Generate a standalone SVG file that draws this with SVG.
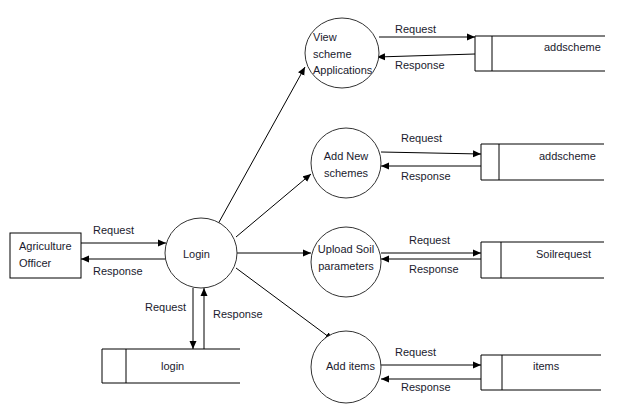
<svg xmlns="http://www.w3.org/2000/svg" width="624" height="419" viewBox="0 0 624 419">
<defs>
<marker id="ah" markerUnits="userSpaceOnUse" markerWidth="9" markerHeight="8" refX="8" refY="4" orient="auto">
<path d="M0,0.5 L8,4 L0,7.5 Z" fill="#000"/>
</marker>
<style>
text{font-family:"Liberation Sans",Arial,sans-serif;font-size:11px;fill:#1a1a2e}
.c{fill:#fff;stroke:#333;stroke-width:1}
.b{fill:#fff;stroke:#000;stroke-width:1}
.s{fill:none;stroke:#000;stroke-width:1}
.l{fill:none;stroke:#000;stroke-width:1;marker-end:url(#ah)}
.m{text-anchor:middle}
</style>
</defs>
<rect width="624" height="419" fill="#fff"/>
<g id="connectors">
<line class="l" x1="81" y1="243" x2="166" y2="243"/>
<line class="l" x1="166" y1="259" x2="81" y2="259"/>
<line class="l" x1="193" y1="288" x2="193" y2="349"/>
<line class="l" x1="204" y1="349" x2="204" y2="288"/>
<line class="l" x1="218" y1="224" x2="305" y2="67"/>
<line class="l" x1="236" y1="237" x2="311" y2="174"/>
<line class="l" x1="237" y1="253" x2="311" y2="253"/>
<line class="l" x1="236" y1="268" x2="333" y2="340"/>
<line class="l" x1="379" y1="37" x2="475" y2="37"/>
<line class="l" x1="475" y1="54" x2="377" y2="57"/>
<line class="l" x1="381" y1="152" x2="481" y2="154"/>
<line class="l" x1="481" y1="166" x2="381" y2="166"/>
<line class="l" x1="381" y1="253" x2="481" y2="253"/>
<line class="l" x1="481" y1="259" x2="381" y2="259"/>
<line class="l" x1="373" y1="365" x2="481" y2="365"/>
<line class="l" x1="481" y1="379" x2="381" y2="379"/>
<text x="93" y="234">Request</text>
<text x="93" y="275">Response</text>
<text x="145" y="311">Request</text>
<text x="213" y="318">Response</text>
<text x="395" y="33">Request</text>
<text x="395" y="69">Response</text>
<text x="401" y="142">Request</text>
<text x="401" y="180">Response</text>
<text x="409" y="244">Request</text>
<text x="409" y="273">Response</text>
<text x="395" y="356">Request</text>
<text x="401" y="391">Response</text>
</g>
<g id="officer">
<rect class="b" x="10" y="233" width="71" height="45"/>
<text x="19" y="250">Agriculture</text>
<text x="19" y="267">Officer</text>
</g>
<g id="login">
<ellipse class="c" cx="201" cy="253" rx="36" ry="35"/>
<text x="183" y="258">Login</text>
</g>
<g id="login-store">
<path class="s" d="M240,349 H102 V383 H240"/>
<line class="s" x1="126" y1="349" x2="126" y2="383" stroke="#555"/>
<text x="161" y="370">login</text>
</g>
<g id="view-scheme">
<ellipse class="c" cx="342" cy="53" rx="37" ry="35"/>
<text x="313" y="41">View</text>
<text x="313" y="58">scheme</text>
<text x="313" y="74">Applications</text>
</g>
<g id="addscheme-store1">
<path class="s" d="M605,36 H475 V71 H605"/>
<line class="s" x1="492" y1="36" x2="492" y2="71" stroke="#555"/>
<text x="544" y="51">addscheme</text>
</g>
<g id="add-new">
<ellipse class="c" cx="346" cy="163" rx="35" ry="35"/>
<text class="m" x="346" y="160">Add New</text>
<text class="m" x="346" y="177">schemes</text>
</g>
<g id="addscheme-store2">
<path class="s" d="M604,144 H481 V180 H604"/>
<line class="s" x1="499" y1="144" x2="499" y2="180" stroke="#555"/>
<text x="539" y="160">addscheme</text>
</g>
<g id="upload-soil">
<ellipse class="c" cx="346" cy="262" rx="35" ry="35"/>
<text class="m" x="346" y="253">Upload Soil</text>
<text class="m" x="346" y="270">parameters</text>
</g>
<g id="soil-store">
<path class="s" d="M604,242 H481 V278 H604"/>
<line class="s" x1="501" y1="242" x2="501" y2="278" stroke="#555"/>
<text x="536" y="258">Soilrequest</text>
</g>
<g id="add-items">
<ellipse class="c" cx="346" cy="367" rx="35" ry="36"/>
<text x="326" y="370">Add items</text>
</g>
<g id="items-store">
<path class="s" d="M601,355 H481 V390 H601"/>
<line class="s" x1="502" y1="355" x2="502" y2="390" stroke="#555"/>
<text x="533" y="370">items</text>
</g>
</svg>
